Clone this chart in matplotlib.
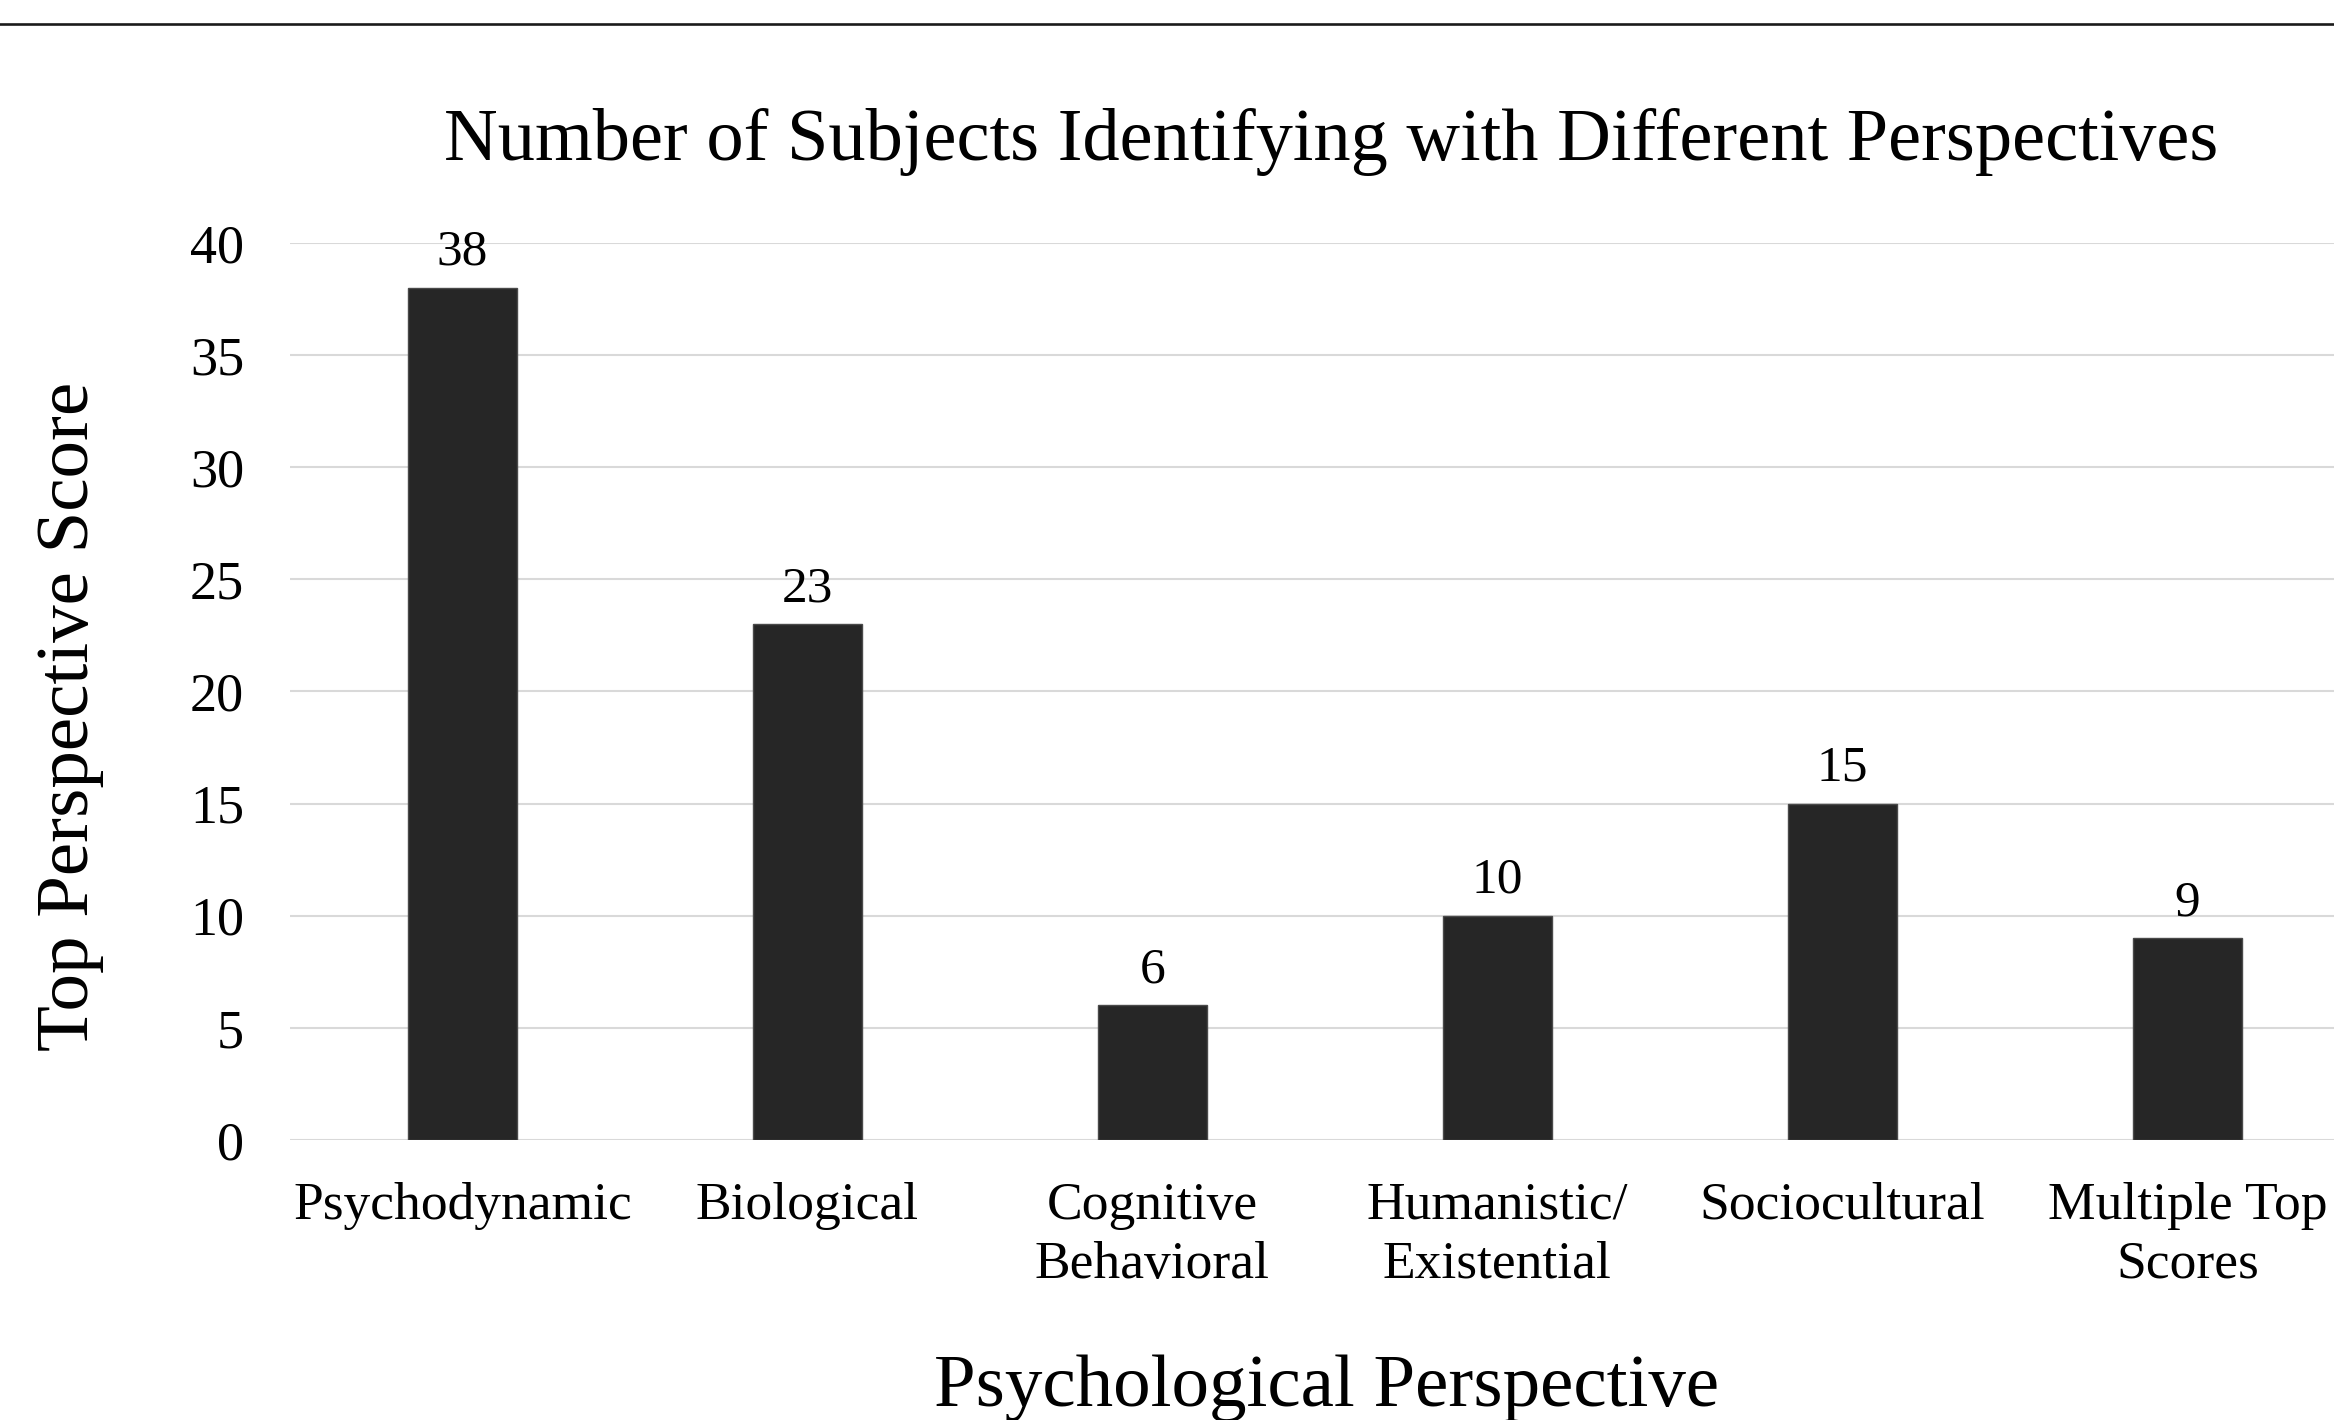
import numpy as np
import matplotlib.pyplot as plt
from matplotlib.lines import Line2D

# data
categories = ['Psychodynamic', 'Biological', 'Cognitive\nBehavioral',
              'Humanistic/\nExistential', 'Sociocultural', 'Multiple Top\nScores']
counts = [38, 23, 6, 10, 15, 9]
y_ticks = [0, 5, 10, 15, 20, 25, 30, 35, 40]

plt.rcParams['font.family'] = ['Liberation Serif', 'DejaVu Serif']

fig = plt.figure(figsize=(23.34, 14.2), dpi=100)
ax = fig.add_axes([0.1242, 0.1972, 0.8869, 0.6317])

x = np.arange(len(categories))
ax.bar(x, counts, width=0.316, color='#262626', edgecolor='#4a4a4a',
       linewidth=1.0, zorder=3)

for xi, v in zip(x, counts):
    ax.annotate(str(v), (xi, v), xytext=(0, 16.5), textcoords='offset points',
                ha='center', va='baseline', fontsize=37, color='black')

ax.set_xlim(-0.5, len(categories) - 0.5)
ax.set_ylim(0, 40)
ax.set_yticks(y_ticks)
ax.set_xticks(x)
ax.set_xticklabels(categories, fontsize=38.5, linespacing=1.3)
ax.tick_params(axis='both', length=0)
ax.tick_params(axis='x', pad=30)
ax.tick_params(axis='y', pad=33, labelsize=39)

ax.grid(axis='y', color='#d9d9d9', linewidth=1.5, zorder=0)
for s in ax.spines.values():
    s.set_visible(False)

# title and axis labels
fig.text(0.5703, 1 - 160 / 1420, 'Number of Subjects Identifying with Different Perspectives',
         ha='center', va='baseline', fontsize=53.6)
fig.text(0.5685, 1 - 1406 / 1420, 'Psychological Perspective',
         ha='center', va='baseline', fontsize=54)
fig.text(70 / 2334, 1 - 716 / 1420, 'Top Perspective Score',
         ha='center', va='center', rotation=90, fontsize=54)

# rule at the top of the page
fig.add_artist(Line2D([0, 1], [1 - 23.5 / 1420] * 2, color='#1a1a1a',
                      linewidth=1.9, transform=fig.transFigure))

fig.savefig('out.png', dpi=100)
